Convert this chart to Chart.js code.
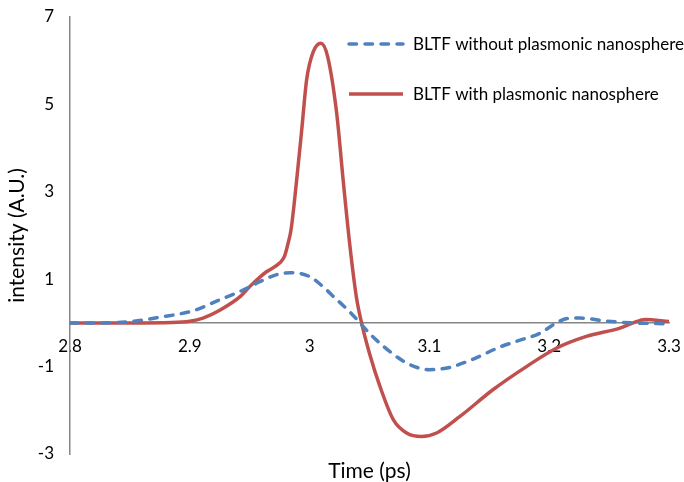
<!DOCTYPE html>
<html><head><meta charset="utf-8">
<script src="https://cdn.jsdelivr.net/npm/chart.js@4/dist/chart.umd.min.js"></script>
<style>html,body{margin:0;padding:0;background:#fff}#wrap{width:684px;height:482px;position:relative}</style>
</head><body><div id="wrap"><canvas id="c" width="684" height="482"></canvas></div>
<script>
const seriesNames = ['BLTF without plasmonic nanosphere', 'BLTF with plasmonic nanosphere'];
const timeBlue = [2.800, 2.820, 2.847, 2.875, 2.903, 2.925, 2.942, 2.959, 2.972, 2.984, 3.000, 3.014, 3.020, 3.028, 3.034, 3.042, 3.050, 3.056, 3.070, 3.084, 3.100, 3.117, 3.126, 3.139, 3.159, 3.175, 3.192, 3.206, 3.215, 3.226, 3.248, 3.270, 3.300];
const intensityBlue = [0.00, 0.00, 0.02, 0.13, 0.28, 0.53, 0.72, 0.95, 1.10, 1.15, 1.06, 0.76, 0.60, 0.40, 0.24, 0.00, -0.24, -0.40, -0.72, -0.96, -1.07, -1.02, -0.94, -0.80, -0.55, -0.40, -0.24, 0.00, 0.10, 0.11, 0.04, 0.00, -0.02];
const timeRed = [2.800, 2.850, 2.885, 2.900, 2.911, 2.925, 2.942, 2.950, 2.959, 2.964, 2.975, 2.979, 2.982, 2.9845, 2.9892, 2.9934, 2.9975, 3.003, 3.0095, 3.015, 3.0226, 3.028, 3.0337, 3.039, 3.0434, 3.050, 3.0588, 3.070, 3.081, 3.0935, 3.106, 3.1255, 3.153, 3.181, 3.206, 3.231, 3.259, 3.270, 3.280, 3.300];
const intensityRed = [0.00, 0.00, 0.01, 0.04, 0.11, 0.29, 0.60, 0.83, 1.06, 1.17, 1.37, 1.52, 1.82, 2.13, 3.27, 4.41, 5.56, 6.20, 6.40, 6.10, 4.80, 3.27, 1.75, 0.60, 0.00, -0.70, -1.46, -2.22, -2.52, -2.60, -2.52, -2.14, -1.53, -1.00, -0.58, -0.31, -0.12, 0.00, 0.08, 0.03];
const xTicks = [2.8, 2.9, 3.0, 3.1, 3.2, 3.3];
const xTickLabels = ['2.8', '2.9', '3', '3.1', '3.2', '3.3'];
const yTicks = [-3, -1, 1, 3, 5, 7];
const xTitle = 'Time (ps)';
const yTitle = 'intensity (A.U.)';

const BLUE = '#4F81BD', RED = '#C0504D', AXIS = '#868686';
const FONT = 'Lato, "Open Sans", sans-serif';

const extras = {
  id: 'extras',
  afterDraw(chart) {
    const ctx = chart.ctx;
    ctx.save();
    ctx.fillStyle = '#000';
    ctx.font = '21px ' + FONT;
    ctx.textAlign = 'center';
    ctx.textBaseline = 'alphabetic';
    const ca = chart.chartArea;
    ctx.fillText(xTitle, (ca.left + ca.right) / 2, 478);
    const items = [
      {name: seriesNames[0], color: BLUE, dash: [7.5, 8.5], y: 44},
      {name: seriesNames[1], color: RED, dash: [], y: 94}
    ];
    ctx.font = '17px ' + FONT;
    ctx.textAlign = 'left';
    ctx.textBaseline = 'middle';
    for (const it of items) {
      ctx.beginPath();
      ctx.strokeStyle = it.color;
      ctx.lineWidth = 3.5;
      ctx.lineCap = it.dash.length ? 'round' : 'butt';
      ctx.setLineDash(it.dash);
      ctx.moveTo(349, it.y);
      ctx.lineTo(403, it.y);
      ctx.stroke();
      ctx.setLineDash([]);
      ctx.fillStyle = '#000';
      ctx.fillText(it.name, 413, it.y + 1);
    }
    ctx.restore();
  }
};

new Chart(document.getElementById('c'), {
  type: 'line',
  data: {
    datasets: [
      {
        label: seriesNames[0],
        data: timeBlue.map((t, i) => ({x: t, y: intensityBlue[i]})),
        borderColor: BLUE, borderWidth: 3.5, borderDash: [7.5, 8.5], borderCapStyle: 'round',
        pointRadius: 0, cubicInterpolationMode: 'monotone', fill: false
      },
      {
        label: seriesNames[1],
        data: timeRed.map((t, i) => ({x: t, y: intensityRed[i]})),
        borderColor: RED, borderWidth: 3.5,
        pointRadius: 0, cubicInterpolationMode: 'monotone', fill: false
      }
    ]
  },
  options: {
    responsive: false, animation: false, devicePixelRatio: 1,
    layout: {padding: {top: 17, right: 15, bottom: 28, left: 0}},
    plugins: {legend: {display: false}, tooltip: {enabled: false}},
    scales: {
      x: {
        type: 'linear', position: {y: 0}, min: 2.8, max: 3.3,
        afterBuildTicks: s => { s.ticks = xTicks.map(v => ({value: v})); },
        afterFit: s => { s.paddingLeft = 0; s.paddingRight = 0; },
        ticks: {callback: (v, i) => xTickLabels[i], color: '#000', font: {family: FONT, size: 17}, padding: 13, maxRotation: 0, autoSkip: false},
        grid: {display: true, color: 'rgba(0,0,0,0)', drawTicks: false},
        border: {display: true, color: AXIS, width: 1.5}
      },
      y: {
        type: 'linear', min: -3, max: 7,
        afterBuildTicks: s => { s.ticks = yTicks.map(v => ({value: v})); },
        afterFit: s => { s.width = 70; s.paddingTop = 0; s.paddingBottom = 0; },
        ticks: {color: '#000', font: {family: FONT, size: 17}, padding: 16},
        grid: {display: true, color: 'rgba(0,0,0,0)', drawTicks: false},
        border: {display: true, color: AXIS, width: 1.5},
        title: {display: true, text: yTitle, color: '#000', font: {family: FONT, size: 21}, padding: {top: 5, bottom: 0}}
      }
    }
  },
  plugins: [extras]
});
</script></body></html>
